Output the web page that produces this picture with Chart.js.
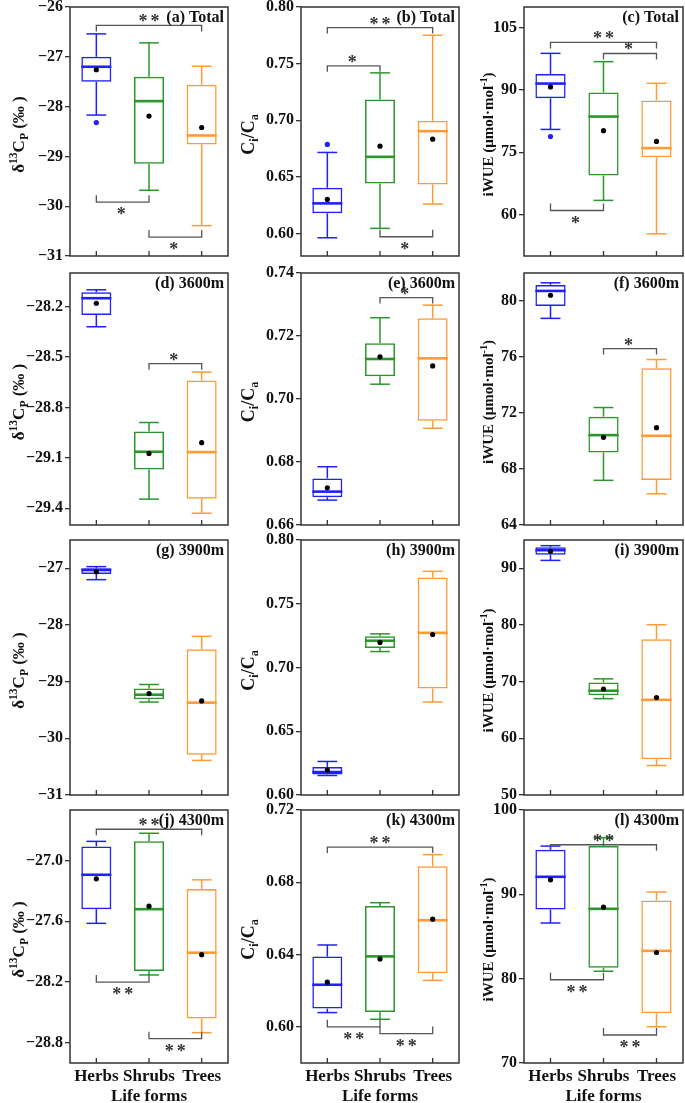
<!DOCTYPE html>
<html>
<head>
<meta charset="utf-8">
<title>Life forms: δ13C, Ci/Ca and iWUE</title>
<script src="https://cdn.jsdelivr.net/npm/chart.js@4.4.1/dist/chart.umd.min.js"></script>
<style>
  html, body { margin: 0; padding: 0; background: #fff; overflow: hidden; }
  #wrap { position: relative; width: 685px; height: 1103px; }
  canvas { position: absolute; }
</style>
</head>
<body>
<div id="wrap"></div>
<script>
/* === Box plots per life form: Total + 3 altitudes === */

const lifeForms = ['Herbs', 'Shrubs', 'Trees'];

// boxes: [lower whisker, Q1, median, Q3, upper whisker] for Herbs, Shrubs, Trees
// sig: [from, to, level, label, side]

// (a) delta13C Total
const boxA = [[-28.17, -27.50, -27.20, -27.00, -26.54], [-29.68, -29.15, -27.89, -27.40, -26.72], [-30.39, -28.76, -28.58, -27.56, -27.19]];
const meanA = [-27.26, -28.19, -28.42];
const outA = [[-28.32], [], []];
const sigA = [[0, 2, -26.37, '**', 'top'], [0, 1, -29.92, '*', 'bottom'], [1, 2, -30.62, '*', 'bottom']];
const ticksA = [-31, -30, -29, -28, -27, -26];
const rangeA = [-31, -26];

// (b) Ci/Ca Total
const boxB = [[0.5961, 0.6177, 0.6265, 0.6403, 0.6715], [0.6044, 0.6441, 0.6676, 0.7183, 0.7418], [0.6259, 0.6432, 0.6903, 0.6994, 0.7750]];
const meanB = [0.6300, 0.6770, 0.6832];
const outB = [[0.6786], [], []];
const sigB = [[0, 2, 0.7818, '**', 'top'], [0, 1, 0.7480, '*', 'top'], [1, 2, 0.5970, '*', 'bottom']];
const ticksB = [0.60, 0.65, 0.70, 0.75, 0.80];
const rangeB = [0.58, 0.80];

// (c) iWUE Total
const boxC = [[80.5, 88.0, 91.55, 93.87, 98.83], [63.4, 69.4, 83.6, 89.4, 96.83], [55.35, 73.8, 76.0, 87.5, 91.6]];
const meanC = [90.75, 80.2, 77.6];
const outC = [[78.8], [], []];
const sigC = [[0, 2, 101.47, '**', 'top'], [1, 2, 98.8, '*', 'top'], [0, 1, 60.96, '*', 'bottom']];
const ticksC = [60, 75, 90, 105];
const rangeC = [50, 110];

// (d) delta13C 3600m
const boxD = [[-28.32, -28.25, -28.15, -28.115, -28.10], [-29.346, -29.17, -29.064, -28.944, -28.89], [-29.43, -29.344, -29.066, -28.64, -28.59]];
const meanD = [-28.18, -29.074, -29.01];
const outD = [[], [], []];
const sigD = [[1, 2, -28.54, '*', 'top']];
const ticksD = [-29.4, -29.1, -28.8, -28.5, -28.2];
const rangeD = [-29.5, -28.0];

// (e) Ci/Ca 3600m
const boxE = [[0.6679, 0.6688, 0.6706, 0.6748, 0.6785], [0.7047, 0.7072, 0.7127, 0.7177, 0.7258], [0.6907, 0.6931, 0.7129, 0.7256, 0.7298]];
const meanE = [0.6718, 0.7134, 0.7105];
const outE = [[], [], []];
const sigE = [[1, 2, 0.7322, '*', 'top']];
const ticksE = [0.66, 0.68, 0.70, 0.72, 0.74];
const rangeE = [0.66, 0.74];

// (f) iWUE 3600m
const boxF = [[78.76, 79.64, 80.72, 81.15, 81.30], [67.19, 69.18, 70.42, 71.74, 72.39], [66.23, 67.21, 70.37, 75.19, 75.82]];
const meanF = [80.41, 70.26, 70.95];
const outF = [[], [], []];
const sigF = [[1, 2, 76.6, '*', 'top']];
const ticksF = [64, 68, 72, 76, 80];
const rangeF = [64, 82];

// (g) delta13C 3900m
const boxG = [[-27.20, -27.10, -27.03, -27.00, -26.97], [-29.36, -29.31, -29.23, -29.12, -29.05], [-30.39, -30.29, -29.37, -28.43, -28.20]];
const meanG = [-27.06, -29.21, -29.34];
const outG = [[], [], []];
const sigG = [];
const ticksG = [-31, -30, -29, -28, -27];
const rangeG = [-31, -26.5];

// (h) Ci/Ca 3900m
const boxH = [[0.6153, 0.6160, 0.6180, 0.6220, 0.6263], [0.7125, 0.7152, 0.7210, 0.7245, 0.7264], [0.6729, 0.6835, 0.7272, 0.7706, 0.7754]];
const meanH = [0.6196, 0.7197, 0.7259];
const outH = [[], [], []];
const sigH = [];
const ticksH = [0.60, 0.65, 0.70, 0.75, 0.80];
const rangeH = [0.60, 0.80];

// (i) iWUE 3900m
const boxI = [[91.4, 92.4, 93.2, 93.7, 94.0], [67.0, 67.6, 68.4, 69.85, 70.5], [55.2, 56.3, 66.8, 77.5, 80.05]];
const meanI = [93.0, 68.7, 67.2];
const outI = [[], [], []];
const sigI = [];
const ticksI = [50, 60, 70, 80, 90];
const rangeI = [50, 95];

// (j) delta13C 4300m
const boxJ = [[-27.62, -27.48, -27.14, -26.86, -26.81], [-28.13, -28.09, -27.48, -26.81, -26.73], [-28.70, -28.56, -27.91, -27.28, -27.19]];
const meanJ = [-27.18, -27.45, -27.93];
const outJ = [[], [], []];
const sigJ = [[0, 2, -26.69, '**', 'top'], [0, 1, -28.20, '**', 'bottom'], [1, 2, -28.76, '**', 'bottom']];
const ticksJ = [-28.8, -28.2, -27.6, -27.0];
const rangeJ = [-29.0, -26.5];

// (k) Ci/Ca 4300m
const boxK = [[0.6079, 0.6101, 0.6233, 0.6389, 0.6453], [0.6042, 0.6082, 0.6390, 0.6669, 0.6687], [0.6257, 0.6297, 0.6590, 0.6889, 0.6953]];
const meanK = [0.6247, 0.6376, 0.6596];
const outK = [[], [], []];
const sigK = [[0, 2, 0.6995, '**', 'top'], [0, 1, 0.6000, '**', 'bottom'], [1, 2, 0.5963, '**', 'bottom']];
const ticksK = [0.60, 0.64, 0.68, 0.72];
const rangeK = [0.58, 0.72];

// (l) iWUE 4300m
const boxL = [[86.6, 88.2, 92.08, 95.28, 95.72], [80.88, 81.3, 88.28, 95.72, 96.72], [74.3, 75.9, 83.3, 89.28, 90.28]];
const meanL = [91.72, 88.48, 83.1];
const outL = [[], [], []];
const sigL = [[0, 2, 95.88, '**', 'top'], [0, 1, 79.87, '**', 'bottom'], [1, 2, 73.32, '**', 'bottom']];
const ticksL = [70, 80, 90, 100];
const rangeL = [70, 100];

const panelLabels = ['(a) Total', '(b) Total', '(c) Total', '(d) 3600m', '(e) 3600m', '(f) 3600m',
  '(g) 3900m', '(h) 3900m', '(i) 3900m', '(j) 4300m', '(k) 4300m', '(l) 4300m'];

// y titles per column, [text, 'sup'|'sub'|'']
const yTitles = [
  [['δ', ''], ['13', 'sup'], ['C', ''], ['P', 'sub'], [' (‰ )', '']],
  [['C', ''], ['i', 'sub'], ['/C', ''], ['a', 'sub']],
  [['iWUE (μmol·mol', ''], ['-1', 'sup'], [')', '']]
];

// === Layout / styles ===
const FONT = '"Liberation Serif", "Times New Roman", serif';
const COLORS = ['#1f1fff', '#2b962b', '#ff9a35'];
const INK = '#111';
const FRAME = '#333';
const PAD = 12;
const cols = [
  { left: 0, yw: 70, pw: 158, titleX: 18, titleSize: 17 },
  { left: 230, yw: 71, pw: 158, titleX: 18, titleSize: 18 },
  { left: 455, yw: 69, pw: 159, titleX: 33, titleSize: 15 }
];
const rows = [
  { top: 7, ph: 249 },
  { top: 273, ph: 252 },
  { top: 540, ph: 255 },
  { top: 810, ph: 253 }
];

const panels = [
  { box: boxA, mean: meanA, out: outA, sig: sigA, ticks: ticksA, range: rangeA, dec: 0 },
  { box: boxB, mean: meanB, out: outB, sig: sigB, ticks: ticksB, range: rangeB, dec: 2 },
  { box: boxC, mean: meanC, out: outC, sig: sigC, ticks: ticksC, range: rangeC, dec: 0 },
  { box: boxD, mean: meanD, out: outD, sig: sigD, ticks: ticksD, range: rangeD, dec: 1 },
  { box: boxE, mean: meanE, out: outE, sig: sigE, ticks: ticksE, range: rangeE, dec: 2 },
  { box: boxF, mean: meanF, out: outF, sig: sigF, ticks: ticksF, range: rangeF, dec: 0 },
  { box: boxG, mean: meanG, out: outG, sig: sigG, ticks: ticksG, range: rangeG, dec: 0 },
  { box: boxH, mean: meanH, out: outH, sig: sigH, ticks: ticksH, range: rangeH, dec: 2 },
  { box: boxI, mean: meanI, out: outI, sig: sigI, ticks: ticksI, range: rangeI, dec: 0 },
  { box: boxJ, mean: meanJ, out: outJ, sig: sigJ, ticks: ticksJ, range: rangeJ, dec: 1 },
  { box: boxK, mean: meanK, out: outK, sig: sigK, ticks: ticksK, range: rangeK, dec: 2 },
  { box: boxL, mean: meanL, out: outL, sig: sigL, ticks: ticksL, range: rangeL, dec: 0 }
];
panels.forEach((p, i) => { p.label = panelLabels[i]; p.row = Math.floor(i / 3); p.col = i % 3; });

const panelById = {};

function fmt(v, dec) {
  return Number(v).toFixed(dec).replace('-', '\u2212');
}

function line(ctx, x1, y1, x2, y2) {
  ctx.beginPath();
  ctx.moveTo(x1, y1);
  ctx.lineTo(x2, y2);
  ctx.stroke();
}

// Titre vertical avec exposants / indices
function drawRichVertical(ctx, segs, cx, cy, size) {
  const parts = segs.map(([t, k]) => {
    const fs = k ? size * 0.68 : size;
    ctx.font = `bold ${fs}px ${FONT}`;
    return { t, k, fs, w: ctx.measureText(t).width };
  });
  const total = parts.reduce((s, q) => s + q.w, 0);
  ctx.save();
  ctx.translate(cx, cy);
  ctx.rotate(-Math.PI / 2);
  ctx.fillStyle = INK;
  ctx.textBaseline = 'alphabetic';
  ctx.textAlign = 'left';
  let x = -total / 2;
  const base = size * 0.35;
  parts.forEach(q => {
    ctx.font = `bold ${q.fs}px ${FONT}`;
    const dy = q.k === 'sup' ? -size * 0.4 : q.k === 'sub' ? size * 0.22 : 0;
    ctx.fillText(q.t, x, base + dy);
    x += q.w;
  });
  ctx.restore();
}

const boxDecor = {
  id: 'boxDecor',
  // moustaches + médianes
  beforeDatasetsDraw(chart) {
    const p = panelById[chart.canvas.id];
    const ctx = chart.ctx, xs = chart.scales.x, ys = chart.scales.y;
    const bars = chart.getDatasetMeta(2).data;
    ctx.save();
    p.box.forEach((b, i) => {
      const cx = xs.getPixelForValue(i);
      const w = bars[i].width;
      const cap = w * 0.33;
      ctx.strokeStyle = COLORS[i];
      ctx.lineWidth = 1.5;
      line(ctx, cx, ys.getPixelForValue(b[3]), cx, ys.getPixelForValue(b[4]));
      line(ctx, cx, ys.getPixelForValue(b[1]), cx, ys.getPixelForValue(b[0]));
      line(ctx, cx - cap, ys.getPixelForValue(b[4]), cx + cap, ys.getPixelForValue(b[4]));
      line(ctx, cx - cap, ys.getPixelForValue(b[0]), cx + cap, ys.getPixelForValue(b[0]));
      ctx.lineWidth = 2.6;
      line(ctx, cx - w / 2, ys.getPixelForValue(b[2]), cx + w / 2, ys.getPixelForValue(b[2]));
    });
    ctx.restore();
  },
  // cadre, graduations, crochets de significativité, étiquettes
  afterDraw(chart) {
    const p = panelById[chart.canvas.id];
    const ctx = chart.ctx, xs = chart.scales.x, ys = chart.scales.y;
    const a = chart.chartArea;
    ctx.save();
    ctx.strokeStyle = FRAME;
    ctx.lineWidth = 1.5;
    ctx.strokeRect(a.left, a.top, a.right - a.left, a.bottom - a.top);
    ctx.lineWidth = 1.3;
    lifeForms.forEach((_, i) => {
      const x = xs.getPixelForValue(i);
      line(ctx, x, a.bottom, x, a.bottom - 5);
    });

    p.sig.forEach(([i, j, v, text, side]) => {
      const x1 = xs.getPixelForValue(i), x2 = xs.getPixelForValue(j);
      const yy = ys.getPixelForValue(v);
      const d = side === 'top' ? 6 : -7;
      ctx.strokeStyle = '#555';
      ctx.lineWidth = 1.3;
      ctx.beginPath();
      ctx.moveTo(x1, yy + d);
      ctx.lineTo(x1, yy);
      ctx.lineTo(x2, yy);
      ctx.lineTo(x2, yy + d);
      ctx.stroke();
      ctx.fillStyle = '#333';
      ctx.font = `bold 18px ${FONT}`;
      ctx.letterSpacing = '3px';
      ctx.textAlign = 'center';
      ctx.textBaseline = 'alphabetic';
      ctx.fillText(text, (x1 + x2) / 2 + (text.length > 1 ? 1.5 : 0), side === 'top' ? yy + 2 : yy + 18);
      ctx.letterSpacing = '0px';
    });

    ctx.fillStyle = INK;
    ctx.font = `bold 16px ${FONT}`;
    ctx.textAlign = 'right';
    ctx.textBaseline = 'top';
    ctx.fillText(p.label, a.right - 4, a.top + 3);

    const col = cols[p.col];
    drawRichVertical(ctx, yTitles[p.col], col.titleX, (a.top + a.bottom) / 2 + 3, col.titleSize);
    ctx.restore();
  }
};

function makePanel(p, idx) {
  const col = cols[p.col], row = rows[p.row];
  const last = p.row === rows.length - 1;
  const W = col.yw + col.pw + 4;
  const H = PAD + row.ph + (last ? 44 : PAD);
  const cv = document.createElement('canvas');
  cv.id = 'panel' + idx;
  cv.width = W;
  cv.height = H;
  cv.style.left = col.left + 'px';
  cv.style.top = (row.top - PAD) + 'px';
  cv.style.width = W + 'px';
  cv.style.height = H + 'px';
  document.getElementById('wrap').appendChild(cv);
  panelById[cv.id] = p;

  const outPts = [];
  p.out.forEach((arr, i) => arr.forEach(v => outPts.push({ x: lifeForms[i], y: v })));

  const tickFont = { family: FONT, weight: 'bold', size: 16 };
  const xFont = { family: FONT, weight: 'bold', size: 17 };

  return new Chart(cv, {
    type: 'bar',
    data: {
      labels: lifeForms,
      datasets: [
        {
          type: 'line',
          data: p.mean,
          showLine: false,
          pointRadius: 2.6,
          pointBackgroundColor: '#000',
          pointBorderWidth: 0
        },
        {
          type: 'line',
          data: outPts,
          showLine: false,
          pointRadius: 2.6,
          pointBackgroundColor: outPts.map(o => COLORS[lifeForms.indexOf(o.x)]),
          pointBorderWidth: 0
        },
        {
          data: p.box.map(b => [b[1], b[3]]),
          backgroundColor: 'rgba(0,0,0,0)',
          borderColor: COLORS,
          borderWidth: 1.5,
          borderSkipped: false,
          barPercentage: 0.57,
          categoryPercentage: 1
        }
      ]
    },
    options: {
      responsive: false,
      animation: false,
      events: [],
      layout: { padding: { top: PAD, bottom: last ? 0 : PAD, left: 0, right: 4 } },
      plugins: { legend: { display: false }, tooltip: { enabled: false } },
      scales: {
        x: {
          offset: true,
          grid: { display: false, drawTicks: false },
          border: { display: false },
          ticks: { display: last, font: xFont, color: INK, padding: 3, autoSkip: false, maxRotation: 0, minRotation: 0 },
          title: { display: last, text: 'Life forms', font: xFont, color: INK, padding: 0 },
          afterFit: s => { s.height = last ? 44 : 0; }
        },
        y: {
          min: p.range[0],
          max: p.range[1],
          afterBuildTicks: s => { s.ticks = p.ticks.map(v => ({ value: v })); },
          afterFit: s => { s.width = col.yw; },
          grid: { display: true, drawOnChartArea: false, drawTicks: true, tickLength: 5, color: FRAME, lineWidth: 1.3 },
          border: { display: false },
          ticks: { font: tickFont, color: INK, padding: 2, autoSkip: false, callback: v => fmt(v, p.dec) }
        }
      }
    },
    plugins: [boxDecor]
  });
}

panels.forEach((p, i) => makePanel(p, i));
</script>
</body>
</html>
